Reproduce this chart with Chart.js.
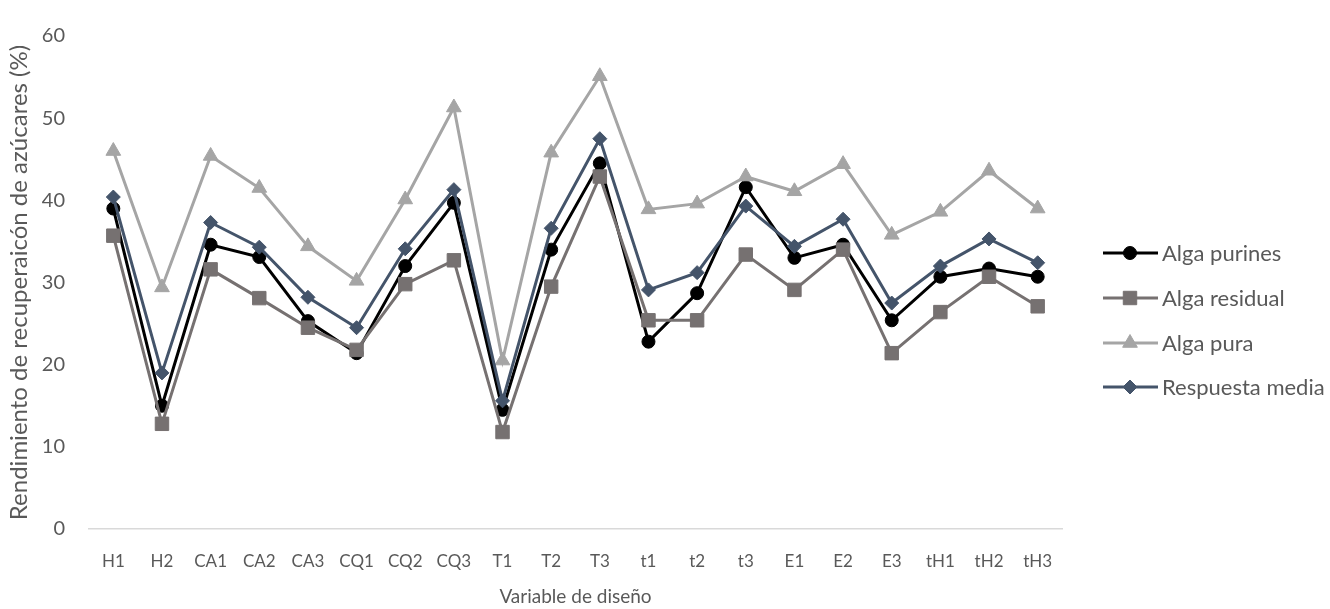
<!DOCTYPE html>
<html>
<head>
<meta charset="utf-8">
<script src="https://cdn.jsdelivr.net/npm/chart.js@4.4.1/dist/chart.umd.min.js"></script>
<style>
  html, body { margin: 0; padding: 0; background: #ffffff; }
  #wrap { width: 1330px; height: 609px; }
</style>
</head>
<body>
<div id="wrap"><canvas id="c" width="1330" height="609"></canvas></div>
<script>
// Design variables on the x axis
const categories = ['H1','H2','CA1','CA2','CA3','CQ1','CQ2','CQ3','T1','T2','T3','t1','t2','t3','E1','E2','E3','tH1','tH2','tH3'];

// Sugar recovery yield (%) per design variable
const algaPurines  = [39.0, 15.0, 34.6, 33.1, 25.3, 21.4, 32.0, 39.7, 14.5, 34.0, 44.5, 22.8, 28.7, 41.6, 33.0, 34.6, 25.4, 30.7, 31.7, 30.7];
const algaResidual = [35.7, 12.8, 31.6, 28.1, 24.5, 21.8, 29.8, 32.7, 11.8, 29.5, 42.9, 25.4, 25.4, 33.4, 29.1, 34.0, 21.4, 26.4, 30.7, 27.1];
const algaPura     = [46.0, 29.4, 45.4, 41.5, 34.4, 30.2, 40.1, 51.3, 20.5, 45.8, 55.1, 38.9, 39.6, 42.9, 41.1, 44.4, 35.8, 38.6, 43.6, 39.0];
const respuestaMedia = [40.4, 19.0, 37.3, 34.3, 28.2, 24.5, 34.1, 41.3, 15.6, 36.6, 47.5, 29.1, 31.2, 39.3, 34.4, 37.7, 27.5, 32.0, 35.3, 32.4];

const yTicks = [0, 10, 20, 30, 40, 50, 60];

const TEXT = '#595959';
const FONT = "Lato, 'Open Sans', sans-serif";

function series(label, data, color, style, radius, order) {
  return {
    label, data, order,
    borderColor: color, backgroundColor: color,
    borderWidth: 3,
    pointStyle: style, pointRadius: radius,
    pointBorderColor: color, pointBackgroundColor: color, pointBorderWidth: 1,
    tension: 0, fill: false
  };
}

// Legend at the right: line segment with marker, then label
const sideLegend = {
  id: 'sideLegend',
  afterDraw(chart) {
    const ctx = chart.ctx;
    const rows = [253, 298, 343, 387];
    chart.data.datasets.forEach((ds, i) => {
      const y = rows[i];
      ctx.save();
      ctx.strokeStyle = ds.borderColor;
      ctx.lineWidth = 3;
      ctx.beginPath();
      ctx.moveTo(1103, y);
      ctx.lineTo(1158, y);
      ctx.stroke();
      ctx.fillStyle = ds.pointBackgroundColor;
      ctx.strokeStyle = ds.pointBorderColor;
      ctx.lineWidth = 1;
      Chart.helpers.drawPoint(ctx, { pointStyle: ds.pointStyle, radius: ds.pointRadius, rotation: 0, borderWidth: 1 }, 1130, y);
      ctx.fillStyle = TEXT;
      ctx.font = "22px " + FONT;
      ctx.textBaseline = 'middle';
      ctx.textAlign = 'left';
      ctx.fillText(ds.label, 1162, y + 1);
      ctx.restore();
    });
  }
};

new Chart(document.getElementById('c'), {
  type: 'line',
  data: {
    labels: categories,
    datasets: [
      series('Alga purines', algaPurines, '#000000', 'circle', 6.5, 4),
      series('Alga residual', algaResidual, '#767171', 'rect', 9.5, 3),
      series('Alga pura', algaPura, '#A5A5A5', 'triangle', 8.5, 2),
      series('Respuesta media', respuestaMedia, '#44546A', 'rectRot', 7, 1)
    ]
  },
  options: {
    responsive: false,
    animation: false,
    layout: { padding: { top: 22, right: 268, left: 0, bottom: 0 } },
    plugins: { legend: { display: false }, tooltip: { enabled: false } },
    scales: {
      x: {
        offset: true,
        grid: { display: true, drawOnChartArea: false, drawTicks: false },
        border: { display: true, color: '#D9D9D9', width: 1.5 },
        ticks: { color: TEXT, padding: 22, font: { family: FONT, size: 17 }, maxRotation: 0, autoSkip: false },
        title: { display: true, text: 'Variable de diseño', color: TEXT, font: { family: FONT, size: 19 }, padding: { top: 0, bottom: 1 } },
        afterFit(s) { s.height = 80; }
      },
      y: {
        min: 0, max: 60,
        grid: { display: false, drawTicks: false },
        border: { display: false },
        afterBuildTicks(s) { s.ticks = yTicks.map(v => ({ value: v })); },
        ticks: { color: TEXT, padding: 24, font: { family: FONT, size: 20 } },
        title: { display: true, text: 'Rendimiento de recuperaicón de azúcares (%)', color: TEXT, font: { family: FONT, size: 24 }, padding: { top: 5, bottom: 0 } },
        afterFit(s) { s.width = 89; }
      }
    }
  },
  plugins: [sideLegend]
});
</script>
</body>
</html>
